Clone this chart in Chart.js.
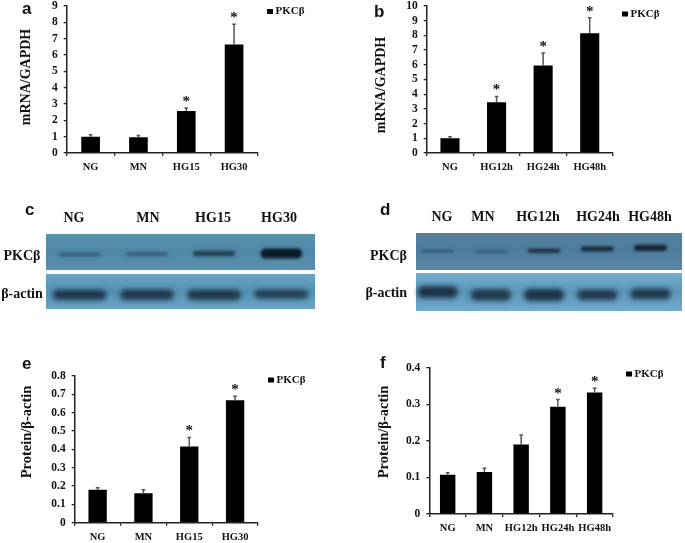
<!DOCTYPE html>
<html>
<head>
<meta charset="utf-8">
<script src="https://cdn.jsdelivr.net/npm/chart.js@4"></script>
<style>
  html, body { margin: 0; padding: 0; background: #fff; }
  body { width: 685px; height: 543px; overflow: hidden; position: relative; }
  canvas { position: absolute; left: 0; top: 0; filter: blur(0.5px); }
</style>
</head>
<body>
<script>
// bar panels
const catsA = ["NG", "MN", "HG15", "HG30"];
const valsA = [1.0, 0.97, 2.57, 6.65];
const errA = [1.12, 1.07, 2.75, 7.88];
const starA = [false, false, true, true];

const catsB = ["NG", "HG12h", "HG24h", "HG48h"];
const valsB = [1.0, 3.45, 5.95, 8.15];
const errB = [1.1, 3.85, 6.8, 9.2];
const starB = [false, true, true, true];

const catsE = ["NG", "MN", "HG15", "HG30"];
const valsE = [0.18, 0.16, 0.415, 0.668];
const errE = [0.19, 0.18, 0.465, 0.69];
const starE = [false, false, true, true];

const catsF = ["NG", "MN", "HG12h", "HG24h", "HG48h"];
const valsF = [0.107, 0.115, 0.19, 0.293, 0.332];
const errF = [0.113, 0.125, 0.216, 0.313, 0.344];
const starF = [false, false, false, true, true];

// blot bands: position in the strip (0 bottom, 1 top), thickness, darkness
const bandCTopPos = [0.43, 0.44, 0.46, 0.46];
const bandCTopThick = [0.1, 0.1, 0.15, 0.28];
const bandCTopDark = [0.4, 0.4, 0.65, 1.0];
const bandCLowPos = [0.4, 0.41, 0.4, 0.42];
const bandCLowThick = [0.3, 0.3, 0.3, 0.26];
const bandCLowDark = [0.75, 0.75, 0.75, 0.7];

const bandDTopPos = [0.51, 0.5, 0.52, 0.57, 0.6];
const bandDTopThick = [0.08, 0.08, 0.12, 0.13, 0.17];
const bandDTopDark = [0.4, 0.35, 0.75, 0.85, 0.9];
const bandDLowPos = [0.5, 0.42, 0.42, 0.42, 0.45];
const bandDLowThick = [0.32, 0.3, 0.32, 0.28, 0.28];
const bandDLowDark = [0.8, 0.75, 0.8, 0.75, 0.75];

const SERIF = '"Liberation Serif", serif';
const SANS = '"Liberation Sans", sans-serif';

// draws free text (letters, axis titles, blot labels)
const textPlugin = {
    id: "freeText",
    afterDraw(chart, args, opts) {
        const ctx = chart.ctx;
        (opts.items || []).forEach((t) => {
            ctx.save();
            ctx.translate(t.x, t.y);
            if (t.rot) ctx.rotate(t.rot);
            ctx.font = t.font;
            ctx.fillStyle = t.color || "#111";
            ctx.textAlign = t.align || "center";
            ctx.textBaseline = t.base || "middle";
            ctx.fillText(t.text, 0, 0);
            ctx.restore();
        });
    },
};

// error bars, stars and the small PKCβ key of a bar panel
const markPlugin = {
    id: "marks",
    afterDatasetsDraw(chart, args, opts) {
        if (!opts.err) return;
        const ctx = chart.ctx;
        const meta = chart.getDatasetMeta(0);
        const yScale = chart.scales.y;
        ctx.save();
        meta.data.forEach((bar, i) => {
            const top = yScale.getPixelForValue(opts.err[i]);
            ctx.strokeStyle = "#555";
            ctx.lineWidth = 1.5;
            ctx.beginPath();
            ctx.moveTo(bar.x, bar.y);
            ctx.lineTo(bar.x, top);
            ctx.moveTo(bar.x - 1.8, top);
            ctx.lineTo(bar.x + 1.8, top);
            ctx.stroke();
            if (opts.star[i]) {
                ctx.fillStyle = "#111";
                ctx.font = "bold 15px " + SERIF;
                ctx.textAlign = "center";
                ctx.textBaseline = "alphabetic";
                ctx.fillText("*", bar.x, top - 2);
            }
        });
        ctx.fillStyle = "#000";
        ctx.fillRect(opts.keyX, opts.keyY - 2.5, 6, 5);
        ctx.fillStyle = "#111";
        ctx.font = "bold 11px " + SERIF;
        ctx.textAlign = "left";
        ctx.textBaseline = "middle";
        ctx.fillText("PKCβ", opts.keyX + 8.5, opts.keyY);
        ctx.restore();
    },
};

// strip background and soft edge of the bands
const blotPlugin = {
    id: "blot",
    beforeDatasetsDraw(chart, args, opts) {
        if (!opts.box) return;
        const ctx = chart.ctx;
        const b = opts.box;
        const grad = ctx.createLinearGradient(0, b.y1, 0, b.y2);
        grad.addColorStop(0, opts.colors[0]);
        grad.addColorStop(0.5, opts.colors[1]);
        grad.addColorStop(1, opts.colors[2]);
        ctx.fillStyle = grad;
        ctx.fillRect(b.x1, b.y1, b.x2 - b.x1, b.y2 - b.y1);
        ctx.save();
        ctx.filter = "blur(" + opts.blur + "px)";
    },
    afterDatasetsDraw(chart, args, opts) {
        if (opts.box) chart.ctx.restore();
    },
};

Chart.register(textPlugin, markPlugin, blotPlugin);

function newCanvas() {
    const canvas = document.createElement("canvas");
    canvas.width = 685;
    canvas.height = 543;
    canvas.style.width = "685px";
    canvas.style.height = "543px";
    document.body.appendChild(canvas);
    return canvas.getContext("2d");
}

function barPanel(p) {
    new Chart(newCanvas(), {
        type: "bar",
        data: {
            labels: p.cats,
            datasets: [
                {
                    label: "PKCβ",
                    data: p.vals,
                    backgroundColor: "#000",
                    barPercentage: p.barPct,
                    categoryPercentage: 1,
                },
            ],
        },
        options: {
            responsive: false,
            animation: false,
            layout: {
                padding: {
                    left: p.left - 60,
                    right: 685 - p.right,
                    top: p.top,
                    bottom: 543 - p.bottom - 40,
                },
            },
            scales: {
                x: {
                    afterFit: (s) => {
                        s.height = 40;
                        s.paddingLeft = 0;
                        s.paddingRight = 0;
                    },
                    grid: { drawOnChartArea: false, tickLength: 3, color: "#222", lineWidth: 1.3 },
                    border: { color: "#222", width: 1.5 },
                    ticks: {
                        color: "#111",
                        font: { family: SERIF, weight: "bold", size: 10.5 },
                        padding: 5,
                        maxRotation: 0,
                        autoSkip: false,
                    },
                },
                y: {
                    // the top label must not push the plot area down
                    afterFit: (s) => {
                        s.width = 60;
                        s.paddingTop = 0;
                        s.paddingBottom = 0;
                    },
                    min: 0,
                    max: p.max,
                    grid: { drawOnChartArea: false, tickLength: 3, color: "#222", lineWidth: 1.3 },
                    border: { color: "#222", width: 1.5 },
                    ticks: {
                        stepSize: p.step,
                        autoSkip: false,
                        color: "#111",
                        font: { family: SERIF, weight: "bold", size: 11.5 },
                        padding: 6,
                        callback: (v) => (v === 0 || p.step === 1 ? Math.round(v) : v.toFixed(1)),
                    },
                },
            },
            plugins: {
                legend: { display: false },
                tooltip: { enabled: false },
                marks: { err: p.err, star: p.star, keyX: p.keyX, keyY: p.keyY },
                freeText: { items: p.texts },
            },
        },
    });
}

function blotRow(r) {
    new Chart(newCanvas(), {
        type: "bar",
        data: {
            labels: r.lanes,
            datasets: [
                {
                    data: r.pos.map((v, i) => [v - r.thick[i] / 2, v + r.thick[i] / 2]),
                    backgroundColor: r.dark.map((d) => "rgba(12,26,40," + d + ")"),
                    barPercentage: r.barPct,
                    categoryPercentage: 1,
                    borderRadius: 6,
                    borderSkipped: false,
                },
            ],
        },
        options: {
            responsive: false,
            animation: false,
            layout: {
                padding: {
                    left: r.area[0],
                    right: 685 - r.area[1],
                    top: r.box.y1,
                    bottom: 543 - r.box.y2,
                },
            },
            scales: {
                x: { display: false },
                y: { display: false, min: 0, max: 1 },
            },
            plugins: {
                legend: { display: false },
                tooltip: { enabled: false },
                blot: { box: r.box, colors: r.colors, blur: r.blur },
                freeText: { items: r.texts || [] },
            },
        },
    });
}

const letterFont = "bold 17px " + SANS;
const titleFont = "bold 14px " + SERIF;
const proteinFont = "bold 14.5px " + SERIF;
const headFont = "bold 14px " + SERIF;

barPanel({
    cats: catsA, vals: valsA, err: errA, star: starA,
    left: 66.7, right: 258, top: 6, bottom: 153, max: 9, step: 1, barPct: 0.39,
    keyX: 267, keyY: 11.5,
    texts: [
        { text: "a", x: 22, y: 14, font: letterFont, align: "left", base: "alphabetic" },
        { text: "mRNA/GAPDH", x: 26, y: 77, font: titleFont, rot: -Math.PI / 2 },
    ],
});
barPanel({
    cats: catsB, vals: valsB, err: errB, star: starB,
    left: 426.7, right: 613, top: 6, bottom: 153, max: 10, step: 1, barPct: 0.41,
    keyX: 622, keyY: 14,
    texts: [
        { text: "b", x: 374, y: 17, font: letterFont, align: "left", base: "alphabetic" },
        { text: "mRNA/GAPDH", x: 381, y: 85, font: titleFont, rot: -Math.PI / 2 },
    ],
});
barPanel({
    cats: catsE, vals: valsE, err: errE, star: starE,
    left: 74.7, right: 258, top: 376, bottom: 522.7, max: 0.8, step: 0.1, barPct: 0.4,
    keyX: 268, keyY: 380,
    texts: [
        { text: "e", x: 22, y: 369, font: letterFont, align: "left", base: "alphabetic" },
        { text: "Protein/β-actin", x: 27, y: 432, font: proteinFont, rot: -Math.PI / 2 },
    ],
});
barPanel({
    cats: catsF, vals: valsF, err: errF, star: starF,
    left: 429.3, right: 613, top: 367.7, bottom: 514, max: 0.4, step: 0.1, barPct: 0.42,
    keyX: 626, keyY: 374,
    texts: [
        { text: "f", x: 380, y: 368, font: letterFont, align: "left", base: "alphabetic" },
        { text: "Protein/β-actin", x: 384, y: 432, font: proteinFont, rot: -Math.PI / 2 },
    ],
});

blotRow({
    lanes: ["NG", "MN", "HG15", "HG30"],
    pos: bandCTopPos, thick: bandCTopThick, dark: bandCTopDark,
    area: [46, 315], box: { x1: 46, x2: 315, y1: 234, y2: 270 }, barPct: 0.62, blur: 1.8,
    colors: ["#5a93af", "#4f88a6", "#5890ad"],
    texts: [
        { text: "c", x: 25, y: 215, font: letterFont, align: "left", base: "alphabetic" },
        { text: "NG", x: 74, y: 218, font: headFont },
        { text: "MN", x: 148, y: 218, font: headFont },
        { text: "HG15", x: 213, y: 218, font: headFont },
        { text: "HG30", x: 279, y: 218, font: headFont },
        { text: "PKCβ", x: 22, y: 256, font: headFont },
    ],
});
blotRow({
    lanes: ["NG", "MN", "HG15", "HG30"],
    pos: bandCLowPos, thick: bandCLowThick, dark: bandCLowDark,
    area: [46, 315], box: { x1: 46, x2: 315, y1: 274, y2: 309 }, barPct: 0.8, blur: 2.6,
    colors: ["#6aa4c4", "#5590b2", "#6aa4c6"],
    texts: [{ text: "β-actin", x: 22, y: 294, font: headFont }],
});
blotRow({
    lanes: ["NG", "MN", "HG12h", "HG24h", "HG48h"],
    pos: bandDTopPos, thick: bandDTopThick, dark: bandDTopDark,
    area: [411, 677], box: { x1: 416, x2: 682, y1: 233, y2: 270 }, barPct: 0.62, blur: 1.5,
    colors: ["#55809f", "#4f7d9d", "#5a89a8"],
    texts: [
        { text: "d", x: 380, y: 215, font: letterFont, align: "left", base: "alphabetic" },
        { text: "NG", x: 442, y: 217, font: headFont },
        { text: "MN", x: 483, y: 217, font: headFont },
        { text: "HG12h", x: 538, y: 217, font: headFont },
        { text: "HG24h", x: 598, y: 217, font: headFont },
        { text: "HG48h", x: 650, y: 217, font: headFont },
        { text: "PKCβ", x: 407, y: 256, font: headFont, align: "right" },
    ],
});
blotRow({
    lanes: ["NG", "MN", "HG12h", "HG24h", "HG48h"],
    pos: bandDLowPos, thick: bandDLowThick, dark: bandDLowDark,
    area: [411, 677], box: { x1: 416, x2: 682, y1: 273, y2: 311 }, barPct: 0.76, blur: 2.6,
    colors: ["#74aed0", "#5a94b6", "#72acd0"],
    texts: [{ text: "β-actin", x: 407, y: 293, font: headFont, align: "right" }],
});
</script>
</body>
</html>
